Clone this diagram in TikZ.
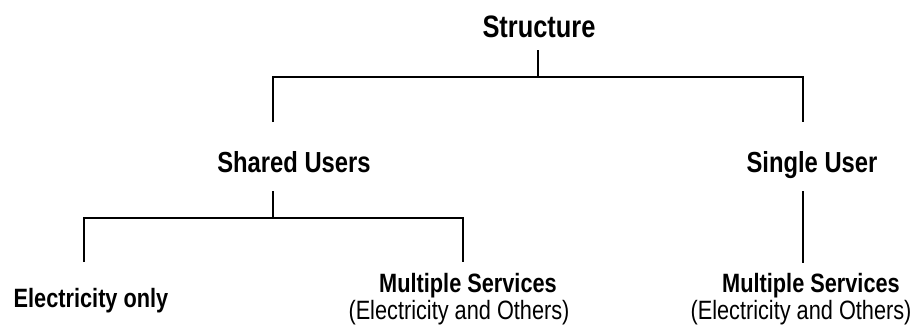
\documentclass[tikz,border=0pt]{standalone}
\usepackage{fontspec}
\setmainfont{Liberation Sans}[FakeStretch=0.82]
\usetikzlibrary{calc}

\tikzset{
  txt/.style={anchor=base, inner sep=0pt},
  toplbl/.style={txt, font=\fontsize{31}{34}\selectfont\bfseries},
  midlbl/.style={txt, font=\fontsize{29}{32}\selectfont\bfseries},
  leaflbl/.style={txt, font=\fontsize{26.5}{29}\selectfont\bfseries},
  noteLbl/.style={txt, font=\fontsize{26.5}{29}\selectfont},
  branch/.style={line width=1.2pt}
}

\begin{document}
\begin{tikzpicture}[x=1pt,y=-1pt]
	\useasboundingbox (0,0) rectangle (912,324);
	% Labels
	\node[toplbl] (struct) at (539,37) {Structure};
	\node[midlbl] (shared) at (294,172) {Shared Users};
	\node[midlbl] (single) at (812,172) {Single User};
	\node[leaflbl] (elec) at (91,307) {Electricity only};
	\node[leaflbl] (msvcL) at (468,292) {Multiple Services};
	\node[noteLbl] (othL) at (459,319) {(Electricity and Others)};
	\node[leaflbl] (msvcR) at (811,292) {Multiple Services};
	\node[noteLbl] (othR) at (801,319) {(Electricity and Others)};
	% Junctions
	\coordinate (barTop) at (538,77);
	\coordinate (barTopL) at (273,77);
	\coordinate (barTopR) at (803,77);
	\coordinate (barMid) at (273,218);
	\coordinate (barMidL) at (84,218);
	\coordinate (barMidR) at (463,218);
	% Branches
	\draw[branch] ([yshift=-13pt]struct.base -| barTop) -- (barTop);
	\draw[branch] ($(barTopL)+(0,45)$) -- (barTopL) -- (barTopR) -- ++(0,45);
	\draw[branch] ([yshift=-19pt]shared.base -| barMid) -- (barMid);
	\draw[branch] ($(barMidL)+(0,44)$) -- (barMidL) -- (barMidR) -- ++(0,44);
	\draw[branch] ([yshift=-19pt]single.base -| barTopR) -- ([yshift=29pt]msvcR.base -| barTopR);
\end{tikzpicture}
\end{document}
